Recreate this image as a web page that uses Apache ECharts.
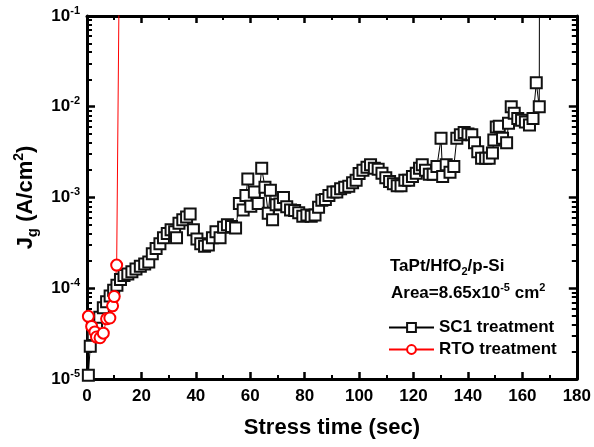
<!DOCTYPE html>
<html><head><meta charset="utf-8">
<script src="https://cdn.jsdelivr.net/npm/echarts@6/dist/echarts.min.js"></script>
<style>html,body{margin:0;padding:0;background:#fff}#c{width:594px;height:447px}</style>
</head><body><div id="c"></div>
<script>
const FF = '"Liberation Sans", Arial, sans-serif';

const seriesNames = ['SC1 treatment', 'RTO treatment'];

const sc1Time = [0.5,1.2,2.3,3.5,4.7,6.0,7.2,8.5,9.8,11.0,12.3,13.6,15.0,16.5,18.0,19.6,21.2,22.7,24.0,25.4,26.8,28.1,29.5,30.9,32.2,32.9,33.8,35.2,36.6,37.9,39.1,40.4,41.8,43.2,44.6,46.1,47.4,48.9,50.2,51.6,53.1,54.6,56.0,57.4,58.4,59.1,60.2,61.5,62.9,64.2,65.4,66.6,67.4,68.2,69.5,70.9,72.2,73.4,74.8,76.3,77.8,79.3,80.8,82.4,83.8,85.1,86.3,87.6,88.9,90.4,91.8,93.2,94.7,96.2,97.6,98.9,100.0,101.4,102.9,104.2,105.6,107.0,108.4,109.8,111.2,112.6,114.0,115.4,116.8,118.2,119.6,121.0,122.2,123.2,124.4,125.8,127.2,128.6,130.1,130.7,132.0,133.4,134.8,135.9,137.2,138.6,140.0,141.4,142.4,143.6,145.0,146.5,147.8,149.0,149.5,150.4,151.5,152.7,154.2,154.9,155.9,157.0,158.3,159.7,161.1,162.6,163.9,165.1,166.2,166.3];
const sc1Jg = [1.1e-5,2.3e-5,3.1e-5,3.9e-5,4.8e-5,6.1e-5,7.1e-5,8.2e-5,9.5e-5,1.08e-4,1.25e-4,1.38e-4,1.44e-4,1.52e-4,1.63e-4,1.75e-4,1.85e-4,1.95e-4,2.4e-4,2.75e-4,3.1e-4,3.6e-4,4.0e-4,4.4e-4,4.2e-4,3.6e-4,5.2e-4,5.7e-4,6.1e-4,6.6e-4,4.4e-4,3.5e-4,3.1e-4,2.9e-4,3.0e-4,3.6e-4,4.2e-4,3.6e-4,4.7e-4,5.0e-4,4.8e-4,4.6e-4,8.6e-4,7.3e-4,1.05e-3,1.6e-3,8.0e-4,1.15e-3,8.6e-4,2.1e-3,1.3e-3,6.7e-4,1.2e-3,5.7e-4,8.3e-4,8.5e-4,1.0e-3,7.9e-4,7.3e-4,7.2e-4,6.8e-4,6.2e-4,6.4e-4,6.2e-4,6.4e-4,7.8e-4,9.3e-4,9.5e-4,1.05e-3,1.15e-3,1.15e-3,1.25e-3,1.3e-3,1.33e-3,1.45e-3,1.55e-3,1.84e-3,2.0e-3,2.15e-3,2.3e-3,2.1e-3,2.05e-3,1.85e-3,1.65e-3,1.5e-3,1.42e-3,1.35e-3,1.35e-3,1.55e-3,1.55e-3,1.7e-3,1.85e-3,2.1e-3,2.3e-3,2.0e-3,1.8e-3,1.8e-3,2.2e-3,4.5e-3,1.7e-3,2.3e-3,1.9e-3,2.2e-3,4.5e-3,4.9e-3,5.2e-3,5.0e-3,4.9e-3,4.0e-3,3.2e-3,2.7e-3,2.7e-3,2.7e-3,3.1e-3,4.3e-3,6.0e-3,6.1e-3,4.5e-3,4.0e-3,6.6e-3,1.0e-2,8.5e-3,7.4e-3,7.1e-3,6.8e-3,6.3e-3,7.4e-3,1.84e-2,1.0e-2,1];

const rtoTime = [0.5,1.7,2.9,3.5,4.8,6.0,7.2,8.4,9.4,10.0,10.9,12.0];
const rtoJg = [4.9e-5,3.8e-5,3.3e-5,2.9e-5,2.85e-5,3.2e-5,4.6e-5,4.7e-5,6.4e-5,8.1e-5,1.8e-4,1];

function zipPts(t, v) {
  return t.map((x, i) => {
    const p = { value: [x, v[i]] };
    if (v[i] > 0.1) p.symbol = 'none';
    return p;
  });
}

const chart = echarts.init(document.getElementById('c'), null, { renderer: 'canvas' });

const axisLineStyle = { color: '#000', width: 3 };

function xAxisDef(pos, showLabel) {
  return {
    type: 'value', min: 0, max: 180, interval: 20, position: pos,
    axisLine: { show: true, onZero: false, lineStyle: axisLineStyle },
    axisTick: { show: true, inside: true, length: 7, lineStyle: { color: '#000', width: 2.5 } },
    minorTick: { show: true, splitNumber: 2, length: 4, lineStyle: { color: '#000', width: 2 } },
    splitLine: { show: false }, minorSplitLine: { show: false },
    axisLabel: { show: showLabel, margin: 9, color: '#000', fontSize: 17, fontWeight: 'bold', fontFamily: FF },
    name: showLabel ? 'Stress time (sec)' : '',
    nameLocation: 'middle', nameGap: 38,
    nameTextStyle: { color: '#000', fontSize: 22, fontWeight: 'bold', fontFamily: FF }
  };
}

function yAxisDef(pos, showLabel) {
  return {
    type: 'log', logBase: 10, min: 1e-5, max: 1e-1, position: pos,
    axisLine: { show: true, onZero: false, lineStyle: axisLineStyle },
    axisTick: { show: true, inside: true, length: 8, lineStyle: { color: '#000', width: 2.5 } },
    minorTick: { show: true, splitNumber: 9, length: 5, lineStyle: { color: '#000', width: 2 } },
    splitLine: { show: false }, minorSplitLine: { show: false },
    axisLabel: {
      show: showLabel, margin: 7, color: '#000',
      formatter: v => '{b|10}{s|' + Math.round(Math.log10(v)) + '}',
      rich: {
        b: { fontSize: 17, fontWeight: 'bold', fontFamily: FF, color: '#000', lineHeight: 22 },
        s: { fontSize: 11, fontWeight: 'bold', fontFamily: FF, color: '#000', lineHeight: 10, verticalAlign: 'top' }
      }
    },
    name: showLabel ? 'J{sub|g} (A/cm{sup|2})' : '',
    nameLocation: 'middle', nameGap: 47,
    nameTextStyle: {
      color: '#000', fontSize: 22, fontWeight: 'bold', fontFamily: FF, lineHeight: 28,
      rich: {
        sub: { fontSize: 15, fontWeight: 'bold', fontFamily: FF, color: '#000', lineHeight: 12, verticalAlign: 'bottom' },
        sup: { fontSize: 14, fontWeight: 'bold', fontFamily: FF, color: '#000', lineHeight: 12, verticalAlign: 'top' }
      }
    }
  };
}

const option = {
  animation: false,
  backgroundColor: '#fff',
  grid: { left: 87, right: 17, top: 16, bottom: 68, containLabel: false },
  xAxis: [xAxisDef('bottom', true), xAxisDef('top', false)],
  yAxis: [yAxisDef('left', true), yAxisDef('right', false)],
  legend: {
    data: seriesNames, orient: 'vertical', left: 388, top: 319, padding: 0,
    itemWidth: 45, itemHeight: 11, itemGap: 5, selectedMode: false,
    textStyle: { color: '#000', fontSize: 17, fontWeight: 'bold', fontFamily: FF, lineHeight: 16 }
  },
  graphic: [
    {
      type: 'text', left: 390, top: 255, z: 100,
      style: {
        text: 'TaPt/HfO{sub|2}/p-Si', fill: '#000', fontSize: 17, fontWeight: 'bold', fontFamily: FF, lineHeight: 22,
        rich: { sub: { fontSize: 11, fontWeight: 'bold', fontFamily: FF, fill: '#000', lineHeight: 10, verticalAlign: 'bottom' } }
      }
    },
    {
      type: 'text', left: 391, top: 282, z: 100,
      style: {
        text: 'Area=8.65x10{sup|-5} cm{sup|2}', fill: '#000', fontSize: 17, fontWeight: 'bold', fontFamily: FF, lineHeight: 22,
        rich: { sup: { fontSize: 11, fontWeight: 'bold', fontFamily: FF, fill: '#000', lineHeight: 8, verticalAlign: 'top' } }
      }
    }
  ],
  series: [
    {
      name: seriesNames[0], type: 'line', xAxisIndex: 0, yAxisIndex: 0,
      data: zipPts(sc1Time, sc1Jg), clip: true,
      symbol: 'emptyRect', symbolSize: 11,
      lineStyle: { color: '#000', width: 1 },
      itemStyle: { color: '#111', borderColor: '#111', borderWidth: 1.2 }
    },
    {
      name: seriesNames[1], type: 'line', xAxisIndex: 0, yAxisIndex: 0,
      data: zipPts(rtoTime, rtoJg), clip: true,
      symbol: 'emptyCircle', symbolSize: 11,
      lineStyle: { color: '#ff0000', width: 1 },
      itemStyle: { color: '#ff0000', borderColor: '#ff0000', borderWidth: 1.2 }
    }
  ]
};
chart.setOption(option);
</script>
</body></html>
